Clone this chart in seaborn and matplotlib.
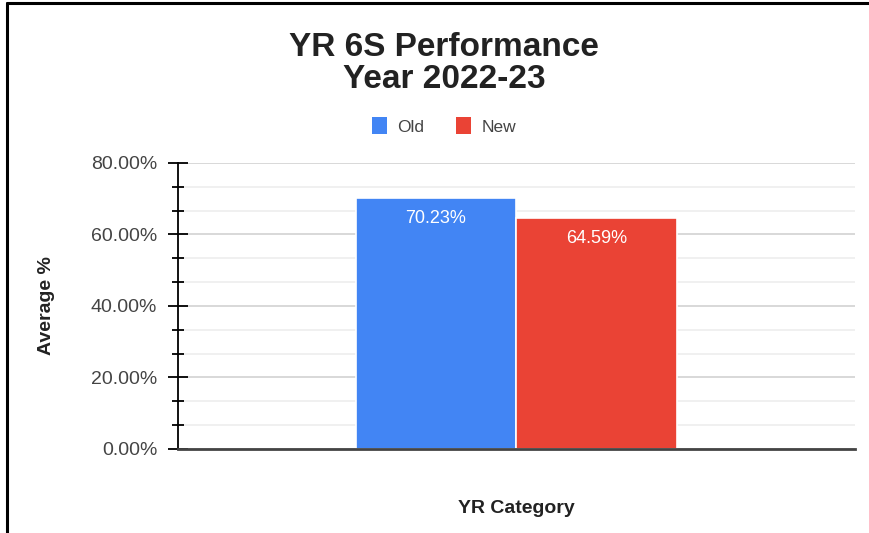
import pandas as pd
import matplotlib
matplotlib.use("Agg")
import matplotlib.pyplot as plt
from matplotlib.lines import Line2D
from matplotlib.patches import Patch
from matplotlib.ticker import MultipleLocator, FuncFormatter
import seaborn as sns

# chart data
categories = ["YR 6S"]
series = ["Old", "New"]
averages = [70.23, 64.59]
colors = ["#4285F4", "#EA4335"]

sns.set_style("white")
plt.rcParams['font.family'] = ['Liberation Sans', 'DejaVu Sans']

df = pd.DataFrame({
    "Category": categories * len(series),
    "Type": series,
    "Average": averages,
})

fig = plt.figure(figsize=(8.69, 5.33), dpi=100)
ax = fig.add_axes([0.2048, 0.1576, 0.779, 0.5366])

sns.barplot(data=df, x="Category", y="Average", hue="Type", hue_order=series,
            palette=colors, width=0.475, saturation=1, edgecolor="white",
            linewidth=1.2, legend=False, ax=ax)

# labels inside top of each bar
for cont, val in zip(ax.containers, averages):
    ax.bar_label(cont, labels=[f"{val:.2f}%"], padding=-21, color="white",
                 fontsize=13)

ax.set_xlim(-0.5, 0.5)
ax.set_ylim(0, 80)
ax.yaxis.set_major_locator(MultipleLocator(20))
ax.yaxis.set_minor_locator(MultipleLocator(20 / 3))
ax.yaxis.set_major_formatter(FuncFormatter(lambda v, p: f"{v:.2f}%"))
ax.set_axisbelow(True)
ax.grid(axis="y", which="major", color="#d6d6d6", linewidth=1.3)
ax.grid(axis="y", which="minor", color="#ececec", linewidth=1.1)
ax.tick_params(axis="y", which="major", direction="inout", length=14, width=1.3,
               color="black", left=True, labelsize=14, labelcolor="#444444",
               pad=8)
ax.tick_params(axis="y", which="minor", direction="inout", length=8, width=1.3,
               color="black", left=True)
ax.tick_params(axis="x", bottom=False, labelbottom=False)

for side in ["top", "right"]:
    ax.spines[side].set_visible(False)
ax.spines["left"].set_color("black")
ax.spines["left"].set_linewidth(1.3)
ax.spines["bottom"].set_color("#444444")
ax.spines["bottom"].set_linewidth(2)

ax.set_xlabel("YR Category", fontsize=14, fontweight="bold", color="#222222")
ax.set_ylabel("Average %", fontsize=14, fontweight="bold", color="#222222")
ax.xaxis.set_label_coords(0.5, -0.178)
ax.yaxis.set_label_coords(-0.182, 0.5)

# title and legend above the plot
fig.text(0.511, 1 - 47 / 533, "YR 6S Performance", ha="center", va="center",
         fontsize=24, fontweight="bold", color="#222222")
fig.text(0.511, 1 - 80 / 533, "Year 2022-23", ha="center", va="center",
         fontsize=24, fontweight="bold", color="#222222")

handles = [Patch(facecolor=c, edgecolor="none") for c in colors]
fig.legend(handles, series, loc="center", bbox_to_anchor=(0.511, 1 - 126 / 533),
           ncol=2, frameon=False, fontsize=12.5, handlelength=0.9,
           handleheight=1.1, handletextpad=0.6, columnspacing=1.8,
           labelcolor="#444444")

# frame lines at top and left of the image
fig.add_artist(Line2D([7 / 869, 1], [1 - 3 / 533, 1 - 3 / 533],
                      transform=fig.transFigure, color="black", linewidth=2.2))
fig.add_artist(Line2D([7 / 869, 7 / 869], [0, 1 - 3 / 533],
                      transform=fig.transFigure, color="black", linewidth=2.2))

fig.savefig("out.png", dpi=100)
